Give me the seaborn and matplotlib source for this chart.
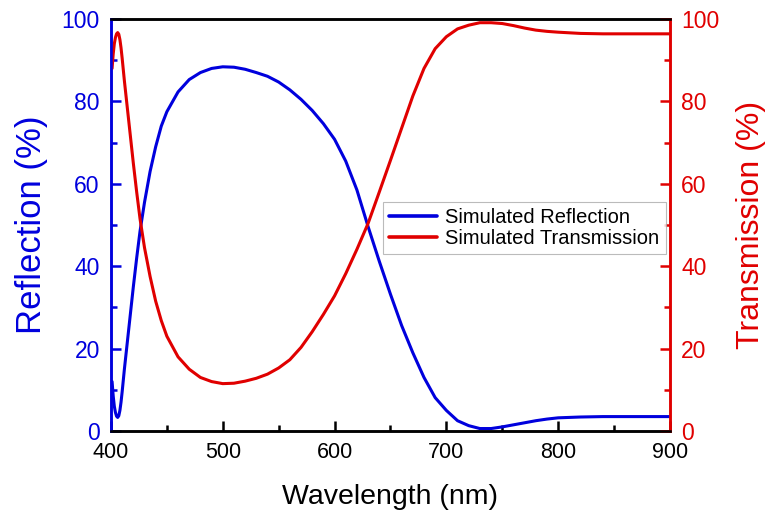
import matplotlib
matplotlib.use("Agg")
import matplotlib.pyplot as plt
import seaborn as sns
import pandas as pd
from matplotlib.ticker import MultipleLocator

# values
wavelength = [401, 402, 403, 404, 405, 406, 407, 408, 409, 410, 412, 414, 416, 418, 420,
              423, 426, 430, 435, 440, 445, 450, 460, 470, 480, 490, 500, 510, 520, 530,
              540, 550, 560, 570, 580, 590, 600, 610, 620, 630, 640, 650, 660, 670, 680,
              690, 700, 710, 720, 730, 740, 750, 760, 770, 780, 790, 800, 820, 840, 860,
              880, 900]
reflection = [12, 8.5, 6, 4.5, 3.6, 3.3, 3.7, 5, 7, 9.5, 15, 20, 25, 30, 35,
              42, 48.5, 55.5, 63, 69, 74, 77.5, 82.3, 85.3, 87, 88, 88.4, 88.3, 87.8, 87,
              86.1, 84.7, 82.8, 80.5, 77.8, 74.6, 70.8, 65.5, 58.5, 49.6, 41.2, 33.2, 25.6, 19, 13,
              8.1, 5, 2.5, 1.3, 0.6, 0.6, 1.0, 1.5, 2.0, 2.5, 2.9, 3.2, 3.4, 3.5, 3.5,
              3.5, 3.5]
transmission = [88, 91.5, 94, 95.5, 96.4, 96.7, 96.3, 95, 93, 90.5, 85, 80, 75, 70, 65,
                58, 51.5, 44.5, 37.5, 31.5, 26.8, 23, 18, 15, 13, 12, 11.5, 11.6, 12.1, 12.8,
                13.8, 15.3, 17.3, 20.3, 24.1, 28.3, 32.8, 38.2, 44.1, 50.4, 58, 65.7, 73.5, 81.3, 88,
                92.8, 95.7, 97.6, 98.5, 99.1, 99.1, 98.9, 98.4, 97.8, 97.3, 97, 96.8, 96.5, 96.4, 96.4,
                96.4, 96.4]

df = pd.DataFrame({"Wavelength": wavelength, "Reflection": reflection, "Transmission": transmission})

sns.set_style("ticks")
plt.rcParams['font.family'] = ['Liberation Sans', 'DejaVu Sans']
plt.rcParams['text.color'] = 'black'

blue = '#0000DD'
red = '#E00000'

fig = plt.figure(figsize=(7.69, 5.22), dpi=100)
ax = fig.add_axes([0.1443, 0.1743, 0.7269, 0.7893])
ax2 = ax.twinx()

sns.lineplot(data=df, x="Wavelength", y="Reflection", color=blue, lw=2.2, ax=ax,
             estimator=None, label="Simulated Reflection", legend=False)
sns.lineplot(data=df, x="Wavelength", y="Transmission", color=red, lw=2.2, ax=ax2,
             estimator=None, label="Simulated Transmission", legend=False)

ax.set_xlim(400, 900)
ax.set_ylim(0, 100)
ax2.set_ylim(0, 100)
ax.xaxis.set_major_locator(MultipleLocator(100))
ax.xaxis.set_minor_locator(MultipleLocator(50))
for a in (ax, ax2):
    a.yaxis.set_major_locator(MultipleLocator(20))
    a.yaxis.set_minor_locator(MultipleLocator(10))

for a in (ax, ax2):
    for s in a.spines.values():
        s.set_linewidth(1.8)
        s.set_color('black')
    a.spines['left'].set_color(blue)
    a.spines['right'].set_color(red)

ax.tick_params(axis='x', which='both', direction='in', top=False, colors='black',
               labelsize=15.5, pad=8, width=1.8)
ax.tick_params(axis='x', which='major', length=7)
ax.tick_params(axis='x', which='minor', length=4)
ax.tick_params(axis='y', which='both', direction='in', colors=blue, labelsize=16.5, pad=8, width=1.8)
ax.tick_params(axis='y', which='major', length=7)
ax.tick_params(axis='y', which='minor', length=4)
ax2.tick_params(axis='y', which='both', direction='in', colors=red, labelsize=16.5, pad=8, width=1.8)
ax2.tick_params(axis='y', which='major', length=7)
ax2.tick_params(axis='y', which='minor', length=4)

ax.set_xlabel("Wavelength (nm)", fontsize=20.5, color='black', labelpad=15)
ax.set_ylabel("Reflection (%)", fontsize=25, color=blue, labelpad=10)
ax2.set_ylabel("Transmission (%)", fontsize=23, color=red, labelpad=12)

h1, l1 = ax.get_legend_handles_labels()
h2, l2 = ax2.get_legend_handles_labels()
leg = ax2.legend(h1 + h2, l1 + l2, loc='upper left', bbox_to_anchor=(0.4866, 0.5566),
                 borderaxespad=0, fontsize=14.5, frameon=True, fancybox=False,
                 handlelength=2.4, handletextpad=0.4, borderpad=0.3, labelspacing=0.1,
                 labelcolor='black')
leg.get_frame().set_edgecolor('#aaaaaa')
leg.get_frame().set_linewidth(0.8)
for line in leg.get_lines():
    line.set_linewidth(2.6)

fig.savefig("out.png", dpi=100)
